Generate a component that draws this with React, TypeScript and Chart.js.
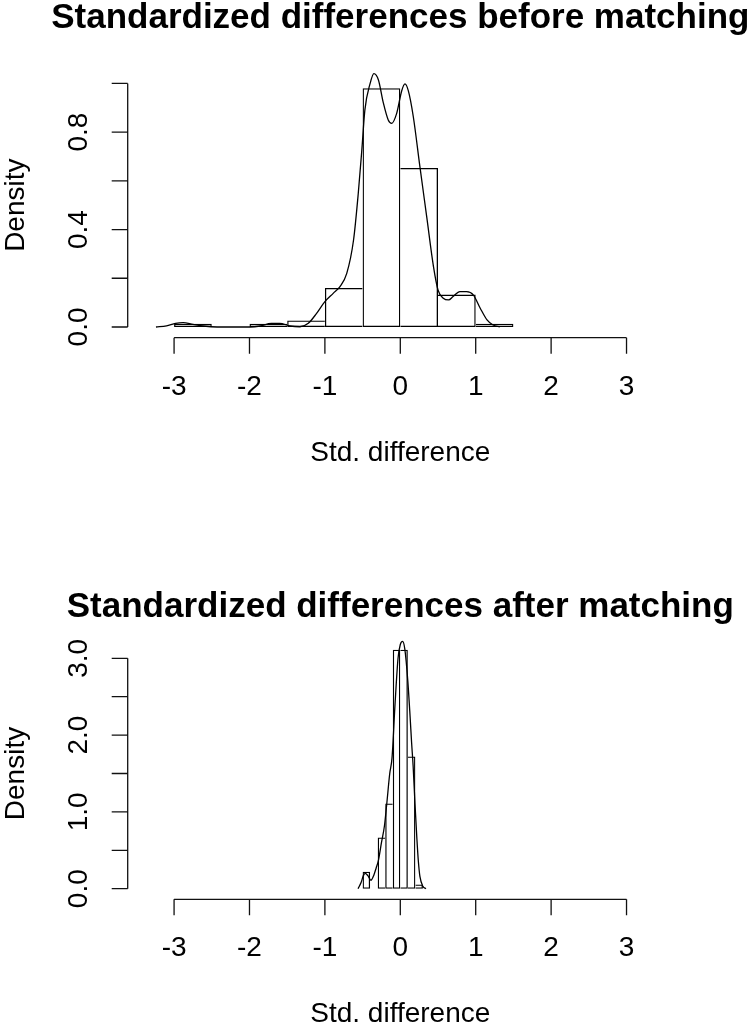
import React, { useEffect, useRef } from 'react';
import { Chart, registerables } from 'chart.js';

Chart.register(...registerables);

// ---------- data ----------
const xTickValues = [-3, -2, -1, 0, 1, 2, 3];
const xTickLabels = ['-3', '-2', '-1', '0', '1', '2', '3'];

const titleBefore = 'Standardized differences before matching';
const breaksBefore = [-3, -2.5, -2, -1.5, -1, -0.5, 0, 0.5, 1, 1.5];
const densityBefore = [0.0133, 0, 0.0133, 0.0267, 0.16, 0.98, 0.653, 0.133, 0.0133];
const curveBeforeX = [-3.24, -3.1, -2.98, -2.88, -2.75, -2.61, -2.43, -1.99, -1.86, -1.71, -1.6, -1.46, -1.33, -1.22, -1.11, -1.0, -0.89, -0.8, -0.71, -0.62, -0.557, -0.51, -0.47, -0.4, -0.35, -0.29, -0.225, -0.16, -0.114, -0.048, 0.019, 0.062, 0.106, 0.172, 0.26, 0.35, 0.44, 0.5, 0.57, 0.64, 0.7, 0.79, 0.88, 0.97, 1.06, 1.15, 1.23, 1.32];
const curveBeforeY = [0, 0.005, 0.015, 0.018, 0.011, 0.004, 0, 0, 0.004, 0.015, 0.015, 0.004, 0.001, 0.015, 0.056, 0.104, 0.138, 0.166, 0.22, 0.357, 0.55, 0.727, 0.89, 1.0, 1.04, 1.014, 0.92, 0.85, 0.836, 0.877, 0.97, 0.998, 0.97, 0.864, 0.658, 0.453, 0.248, 0.152, 0.118, 0.111, 0.125, 0.145, 0.145, 0.131, 0.077, 0.029, 0.008, 0];
const yTicksBefore = [0, 0.2, 0.4, 0.6, 0.8, 1.0];
const yTickLabelsBefore = ['0.0', '', '0.4', '', '0.8', ''];

const titleAfter = 'Standardized differences after matching';
const breaksAfter = [-0.5, -0.4, -0.3, -0.2, -0.1, 0, 0.1, 0.2, 0.3];
const densityAfter = [0.222, 0, 0.667, 1.111, 3.111, 3.111, 1.722, 0.056];
const curveAfterX = [-0.56, -0.52, -0.49, -0.465, -0.43, -0.39, -0.35, -0.32, -0.29, -0.25, -0.21, -0.18, -0.14, -0.11, -0.07, -0.03, 0, 0.03, 0.06, 0.1, 0.13, 0.15, 0.17, 0.195, 0.22, 0.24, 0.26, 0.3, 0.34];
const curveAfterY = [0, 0.08, 0.17, 0.2, 0.17, 0.11, 0.18, 0.27, 0.37, 0.6, 0.82, 1.1, 1.5, 1.7, 2.4, 3.0, 3.18, 3.22, 3.12, 2.7, 2.24, 1.9, 1.6, 1.1, 0.65, 0.35, 0.16, 0.03, 0];
const yTicksAfter = [0, 0.5, 1, 1.5, 2, 2.5, 3];
const yTickLabelsAfter = ['0.0', '', '1.0', '', '2.0', '', '3.0'];

const xLabel = 'Std. difference';
const yLabel = 'Density';

// ---------- styling ----------
const FONT = '"Liberation Sans", Arial, Helvetica, sans-serif';
const LABEL_PX = 28;
const TITLE_PX = 35;

type PlotCfg = {
  title: string;
  breaks: number[];
  density: number[];
  cx: number[];
  cy: number[];
  yTicks: number[];
  yTickLabels: string[];
  yMin: number;
  yMax: number;
  height: number;
  top: number;
  padding: { top: number; bottom: number; left: number; right: number };
  titleBaseline: number;
};

const plots: PlotCfg[] = [
  {
    title: titleBefore,
    breaks: breaksBefore,
    density: densityBefore,
    cx: curveBeforeX,
    cy: curveBeforeY,
    yTicks: yTicksBefore,
    yTickLabels: yTickLabelsBefore,
    yMin: -0.044,
    yMax: 1.144,
    height: 540,
    top: 0,
    padding: { top: 48.3, bottom: 202.3, left: 127.7, right: 77.1 },
    titleBaseline: 28,
  },
  {
    title: titleAfter,
    breaks: breaksAfter,
    density: densityAfter,
    cx: curveAfterX,
    cy: curveAfterY,
    yTicks: yTicksAfter,
    yTickLabels: yTickLabelsAfter,
    yMin: -0.138,
    yMax: 3.5,
    height: 486,
    top: 540,
    padding: { top: 79.9, bottom: 126.7, left: 127.7, right: 77.1 },
    titleBaseline: 77,
  },
];

const X_MIN = -3.615;
const X_MAX = 3.615;

function makeAxesPlugin(cfg: PlotCfg) {
  return {
    id: 'rAxes',
    afterDraw(chart: any) {
      const { ctx, chartArea, scales } = chart;
      const xs = scales.x;
      const ys = scales.y;
      ctx.save();
      ctx.strokeStyle = '#111';
      ctx.fillStyle = '#000';
      ctx.lineWidth = 1.3;

      // x axis
      const y0 = chartArea.bottom;
      ctx.beginPath();
      ctx.moveTo(xs.getPixelForValue(xTickValues[0]), y0);
      ctx.lineTo(xs.getPixelForValue(xTickValues[xTickValues.length - 1]), y0);
      xTickValues.forEach((v) => {
        const p = xs.getPixelForValue(v);
        ctx.moveTo(p, y0);
        ctx.lineTo(p, y0 + 16);
      });
      ctx.stroke();
      ctx.font = `${LABEL_PX}px ${FONT}`;
      ctx.textAlign = 'center';
      ctx.textBaseline = 'alphabetic';
      xTickValues.forEach((v, i) => {
        ctx.fillText(xTickLabels[i], xs.getPixelForValue(v), y0 + 57);
      });
      ctx.fillText(xLabel, (chartArea.left + chartArea.right) / 2, y0 + 123);

      // y axis
      const x0 = chartArea.left;
      ctx.beginPath();
      ctx.moveTo(x0, ys.getPixelForValue(cfg.yTicks[0]));
      ctx.lineTo(x0, ys.getPixelForValue(cfg.yTicks[cfg.yTicks.length - 1]));
      cfg.yTicks.forEach((v) => {
        const p = ys.getPixelForValue(v);
        ctx.moveTo(x0, p);
        ctx.lineTo(x0 - 16, p);
      });
      ctx.stroke();
      cfg.yTicks.forEach((v, i) => {
        const lbl = cfg.yTickLabels[i];
        if (!lbl) return;
        ctx.save();
        ctx.translate(x0 - 41, ys.getPixelForValue(v));
        ctx.rotate(-Math.PI / 2);
        ctx.fillText(lbl, 0, 0);
        ctx.restore();
      });
      const yMid = (ys.getPixelForValue(cfg.yTicks[0]) + ys.getPixelForValue(cfg.yTicks[cfg.yTicks.length - 1])) / 2;
      ctx.save();
      ctx.translate(x0 - 104, yMid);
      ctx.rotate(-Math.PI / 2);
      ctx.fillText(yLabel, 0, 0);
      ctx.restore();

      // main title
      ctx.font = `bold ${TITLE_PX}px ${FONT}`;
      ctx.fillText(cfg.title, (chartArea.left + chartArea.right) / 2, cfg.titleBaseline);
      ctx.restore();
    },
  };
}

function HistPlot({ cfg }: { cfg: PlotCfg }) {
  const ref = useRef<HTMLCanvasElement | null>(null);
  useEffect(() => {
    if (!ref.current) return;
    const n = cfg.density.length;
    const bars = cfg.density.map((d, i) => ({ x: (cfg.breaks[i] + cfg.breaks[i + 1]) / 2, y: d }));
    const curve = cfg.cx.map((x, i) => ({ x, y: cfg.cy[i] }));
    const chart = new Chart(ref.current, {
      type: 'bar',
      data: {
        datasets: [
          {
            type: 'line',
            data: curve,
            borderColor: '#000',
            borderWidth: 1.3,
            pointRadius: 0,
            cubicInterpolationMode: 'monotone',
            fill: false,
          } as any,
          {
            type: 'bar',
            data: bars,
            backgroundColor: 'rgba(0,0,0,0)',
            borderColor: '#000',
            borderSkipped: false,
            inflateAmount: 0,
            barPercentage: 1,
            categoryPercentage: 1,
            borderWidth: (c: any) => {
              const i = c.dataIndex;
              const h = cfg.density[i];
              const prev = i > 0 ? cfg.density[i - 1] : -1;
              const next = i < n - 1 ? cfg.density[i + 1] : -1;
              return {
                top: 1.3,
                bottom: 1.3,
                left: h > prev ? 1.3 : 0,
                right: h >= next ? 1.3 : 0,
              };
            },
          } as any,
        ],
      },
      options: {
        responsive: false,
        animation: false,
        events: [],
        layout: { padding: cfg.padding },
        plugins: { legend: { display: false }, tooltip: { enabled: false } },
        scales: {
          x: { type: 'linear', min: X_MIN, max: X_MAX, display: false, offset: false, ticks: { stepSize: 1 } },
          y: { type: 'linear', min: cfg.yMin, max: cfg.yMax, display: false },
        },
      },
      plugins: [makeAxesPlugin(cfg)],
    } as any);
    return () => chart.destroy();
  }, [cfg]);
  return (
    <canvas
      ref={ref}
      width={750}
      height={cfg.height}
      style={{ position: 'absolute', left: 0, top: cfg.top, width: 750, height: cfg.height }}
    />
  );
}

export default function App() {
  return (
    <div style={{ position: 'absolute', left: 0, top: 0, width: 750, height: 1026, background: '#fff' }}>
      {plots.map((p, i) => (
        <HistPlot key={i} cfg={p} />
      ))}
    </div>
  );
}
